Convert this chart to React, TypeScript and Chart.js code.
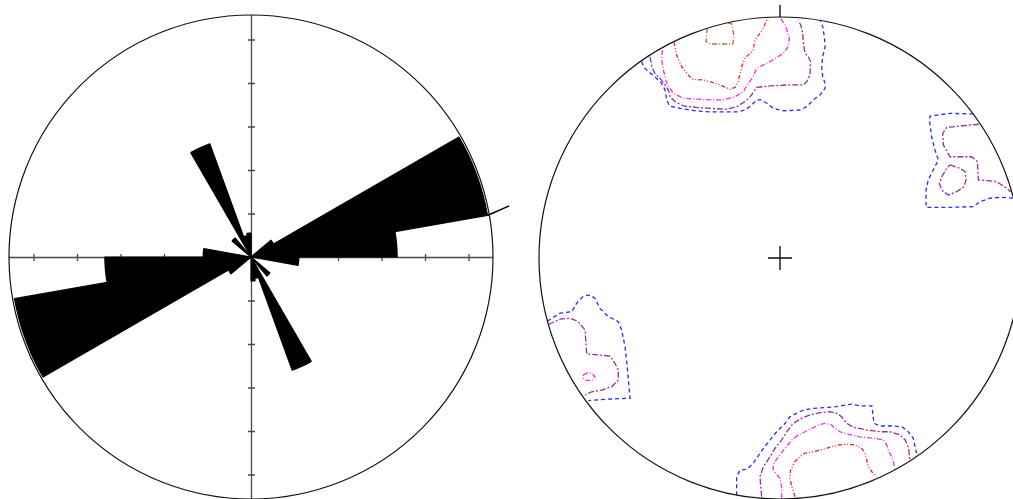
import React, { useEffect, useRef } from 'react';
import { Chart, registerables } from 'chart.js';

Chart.register(...registerables);

// ---------- Rose diagram (left) : 10° bins, azimuth clockwise from north ----------
const roseBins: string[] = Array.from({ length: 36 }, (_, i) => `${i * 10}°–${i * 10 + 10}°`);
const roseValues: number[] = [
  0, 0, 0, 0, 0, 0.6, 5.52, 5.52, 3.36, 1.1, 0, 0, 0, 0.57, 0, 2.77, 0.5, 0.55,
  0, 0, 0, 0, 0, 0.6, 5.52, 5.52, 3.36, 1.1, 0, 0, 0, 0.57, 0, 2.77, 0.5, 0.55,
];
const roseTicks: number[] = [1, 2, 3, 4, 5];
const roseMax = 5.563;
const overflowAz: number[] = [80, 78.8];
const overflowR: number[] = [5.53, 6.05];

// ---------- Stereonet contours (right) : x, y in % of primitive radius ----------
const topOrange: number[][] = [
  [-30.2, 95.3], [-30.7, 89.8], [-29.0, 88.8], [-19.6, 88.8], [-19.1, 91.8], [-20.0, 97.1], [-21.5, 97.6],
];
const topRed: number[][] = [
  [-44.0, 89.5], [-42.9, 84.2], [-40.8, 79.4], [-38.1, 75.9], [-36.0, 74.1], [-31.8, 73.9], [-29.0, 73.2],
  [-24.9, 71.8], [-20.7, 70.0], [-18.7, 70.8], [-17.3, 73.2], [-15.9, 79.4], [-14.5, 82.9], [-11.1, 86.3],
  [-10.4, 90.5], [-8.3, 93.2], [-6.9, 95.3], [-5.5, 98.8], [-4.9, 100.0],
];
const topMagenta: number[][] = [
  [-48.8, 86.3], [-49.1, 82.2], [-48.4, 78.0], [-47.0, 72.5], [-44.3, 68.3], [-40.1, 66.3], [-34.6, 65.9],
  [-29.0, 65.6], [-23.5, 65.6], [-18.7, 66.9], [-15.2, 69.0], [-13.2, 72.5], [-11.1, 75.2], [-9.7, 78.7],
  [-4.1, 81.5], [1.4, 84.9], [3.4, 87.7], [3.9, 91.2], [2.8, 94.6], [2.1, 96.7], [0.7, 98.8], [0, 99.9],
];
const topPurple: number[][] = [
  [-53.9, 83.5], [-53.2, 79.4], [-51.9, 76.6], [-49.8, 74.6], [-47.7, 71.8], [-46.3, 69.7], [-45.6, 66.9],
  [-43.6, 64.9], [-40.1, 63.1], [-34.6, 62.5], [-29.0, 62.1], [-22.1, 61.7], [-18.0, 62.8], [-14.5, 64.9],
  [-12.4, 66.9], [-10.4, 69.7], [-9.7, 70.8], [-4.1, 71.4], [2.8, 71.8], [9.7, 71.8], [11.1, 73.2],
  [12.4, 75.9], [12.7, 81.5], [11.7, 83.5], [10.4, 84.9], [9.7, 89.1], [9.4, 93.2], [8.6, 96.7], [7.6, 98.5],
];
const topBlue: number[][] = [
  [-57.4, 81.5], [-56.7, 79.4], [-54.6, 77.3], [-51.9, 75.2], [-49.1, 72.5], [-47.7, 69.7], [-47.0, 65.6],
  [-45.9, 63.1], [-41.5, 62.1], [-34.6, 61.0], [-29.0, 60.6], [-23.5, 60.6], [-18.0, 60.6], [-14.5, 61.4],
  [-11.7, 63.5], [-9.7, 65.6], [-7.6, 65.6], [-5.5, 64.2], [-2.8, 62.1], [1.4, 61.1], [8.3, 61.4],
  [11.1, 62.8], [13.8, 65.6], [16.6, 67.6], [18.7, 70.4], [18.7, 72.5], [17.7, 75.2], [17.3, 79.4],
  [17.7, 83.5], [18.7, 87.7], [18.4, 91.8], [17.7, 96.0], [16.6, 98.8],
];
const eastBlue: number[][] = [
  [80.2, 59.8], [70.5, 60.0], [62.2, 58.9], [62.0, 57.3], [62.9, 50.3], [64.3, 44.8], [65.7, 40.7],
  [63.6, 36.5], [61.5, 32.4], [60.6, 28.2], [60.6, 21.0], [70.5, 21.0], [80.2, 21.3], [83.0, 23.4],
  [87.1, 24.8], [91.3, 25.2], [96.6, 24.8],
];
const eastPurple: number[][] = [
  [82.5, 55.5], [69.2, 54.2], [67.5, 51.7], [67.8, 46.9], [70.5, 42.0], [79.5, 42.0], [81.9, 40.0],
  [82.3, 32.4], [89.9, 31.7], [94.1, 28.9], [95.7, 27.5],
];
const eastPurpleCore: number[][] = [
  [70.5, 38.6], [74.7, 37.2], [76.8, 35.8], [77.2, 32.4], [76.3, 29.6], [73.3, 27.5], [69.8, 26.1],
  [67.1, 28.2], [66.1, 31.0], [67.5, 34.4], [69.2, 37.2], [70.5, 38.6],
];
const westBlue: number[][] = [
  [-96.5, -26.2], [-91.3, -22.9], [-86.4, -22.3], [-84.4, -18.8], [-81.6, -15.8], [-78.8, -15.4],
  [-76.8, -16.7], [-74.7, -20.9], [-71.9, -23.7], [-69.8, -25.0], [-67.1, -26.4], [-65.7, -29.9],
  [-64.3, -36.8], [-63.4, -45.1], [-62.9, -50.6], [-62.2, -58.2], [-71.9, -58.6], [-79.5, -59.2],
];
const westPurple: number[][] = [
  [-96.1, -27.6], [-91.3, -25.4], [-87.1, -25.0], [-83.7, -26.4], [-80.9, -29.9], [-80.5, -35.4],
  [-80.2, -39.8], [-75.4, -40.2], [-70.5, -40.7], [-68.5, -43.7], [-67.1, -46.5], [-67.1, -50.6],
  [-69.8, -53.4], [-74.0, -54.8], [-78.1, -55.5], [-80.9, -56.8],
];
const westMagenta: number[][] = [
  [-81.6, -48.5], [-80.2, -47.8], [-78.1, -47.8], [-76.8, -49.3], [-77.7, -50.6], [-80.2, -50.9],
  [-81.6, -49.9], [-81.6, -48.5],
];
const southBlue: number[][] = [
  [-18.0, -98.4], [-18.0, -96.3], [-18.0, -90.7], [-16.6, -88.0], [-13.8, -87.7], [-11.1, -85.2],
  [-9.7, -83.1], [-6.9, -79.0], [-4.1, -75.5], [-1.4, -72.1], [2.1, -68.6], [4.1, -65.9], [6.9, -64.4],
  [9.7, -63.1], [13.8, -62.4], [19.4, -62.0], [23.5, -61.7], [27.0, -61.0], [29.8, -60.6], [33.2, -61.4],
  [38.1, -61.4], [38.5, -64.4], [39.0, -68.6], [41.5, -69.7], [47.0, -69.7], [50.9, -70.2], [53.2, -72.1],
  [55.3, -74.8], [56.0, -78.3], [56.7, -81.0],
];
const southPurple: number[][] = [
  [-7.6, -99.0], [-8.0, -94.9], [-8.3, -90.7], [-6.9, -86.6], [-4.1, -82.4], [-2.1, -79.0], [0.7, -75.5],
  [2.8, -72.1], [5.5, -68.6], [9.0, -66.5], [12.4, -65.1], [16.6, -64.2], [20.7, -63.8], [23.5, -64.4],
  [25.6, -65.9], [27.7, -68.6], [30.4, -70.2], [36.0, -71.4], [41.5, -72.1], [45.6, -72.1], [49.8, -73.4],
  [51.9, -75.5], [53.2, -78.3], [53.9, -83.8],
];
const southMagenta: number[][] = [
  [0.7, -99.7], [0.7, -94.9], [0, -91.4], [-2.8, -88.0], [-2.8, -85.9], [-0.7, -82.4], [2.1, -79.0],
  [4.9, -75.5], [7.6, -73.4], [10.4, -72.1], [13.2, -70.7], [15.9, -69.3], [18.7, -68.6], [21.5, -69.3],
  [22.8, -70.7], [24.9, -72.1], [27.7, -73.0], [33.2, -74.2], [38.7, -74.8], [42.9, -75.5], [44.3, -77.6],
  [44.9, -79.7], [46.3, -82.4], [47.0, -84.5], [47.7, -87.3],
];
const southRed: number[][] = [
  [6.2, -99.0], [4.9, -94.9], [4.1, -91.4], [4.4, -88.0], [6.2, -84.5], [8.3, -82.4], [10.4, -81.0],
  [13.8, -80.4], [18.0, -79.4], [20.7, -78.5], [24.2, -77.6], [27.7, -77.2], [31.1, -77.6], [33.9, -79.0],
  [35.3, -81.0], [36.0, -83.8], [36.6, -86.6], [38.1, -88.7], [40.1, -90.7],
];

// ---------- styles ----------
const BLUE = '#2a2aff';
const PURPLE = '#952e95';
const MAGENTA = '#f030f0';
const RED = '#f02020';
const ORANGE = '#cc6633';

const contourSets: { pts: number[][]; color: string; dash: number[] }[] = [
  { pts: topBlue, color: BLUE, dash: [4, 3] },
  { pts: eastBlue, color: BLUE, dash: [4, 3] },
  { pts: westBlue, color: BLUE, dash: [4, 3] },
  { pts: southBlue, color: BLUE, dash: [4, 3] },
  { pts: topPurple, color: PURPLE, dash: [6, 2, 2, 2] },
  { pts: eastPurple, color: PURPLE, dash: [6, 2, 2, 2] },
  { pts: eastPurpleCore, color: PURPLE, dash: [6, 2, 2, 2] },
  { pts: westPurple, color: PURPLE, dash: [6, 2, 2, 2] },
  { pts: southPurple, color: PURPLE, dash: [6, 2, 2, 2] },
  { pts: topMagenta, color: MAGENTA, dash: [5, 2, 1, 2] },
  { pts: westMagenta, color: MAGENTA, dash: [5, 2, 1, 2] },
  { pts: southMagenta, color: MAGENTA, dash: [5, 2, 1, 2] },
  { pts: topRed, color: RED, dash: [4, 2, 1, 2, 1, 2] },
  { pts: southRed, color: RED, dash: [4, 2, 1, 2, 1, 2] },
  { pts: topOrange, color: ORANGE, dash: [5, 2, 1, 2] },
];

const roseFrame = {
  id: 'roseFrame',
  beforeDatasetsDraw(chart: any) {
    const s = chart.scales.r;
    const ctx = chart.ctx as CanvasRenderingContext2D;
    const cx = s.xCenter;
    const cy = s.yCenter;
    const R = s.drawingArea;
    ctx.save();
    ctx.lineWidth = 1.3;
    ctx.strokeStyle = '#4a4a4a';
    ctx.beginPath();
    ctx.moveTo(cx - R, cy + 0.5);
    ctx.lineTo(cx + R, cy + 0.5);
    ctx.moveTo(cx + 0.5, cy - R);
    ctx.lineTo(cx + 0.5, cy + R);
    roseTicks.forEach((t) => {
      const d = s.getDistanceFromCenterForValue(t);
      [-1, 1].forEach((sg) => {
        ctx.moveTo(cx + sg * d + 0.5, cy - 3);
        ctx.lineTo(cx + sg * d + 0.5, cy + 4);
        ctx.moveTo(cx - 3, cy + sg * d + 0.5);
        ctx.lineTo(cx + 4, cy + sg * d + 0.5);
      });
    });
    ctx.stroke();
    ctx.restore();
  },
  afterDatasetsDraw(chart: any) {
    const s = chart.scales.r;
    const ctx = chart.ctx as CanvasRenderingContext2D;
    const cx = s.xCenter;
    const cy = s.yCenter;
    const R = s.drawingArea;
    ctx.save();
    ctx.lineWidth = 1.2;
    ctx.strokeStyle = '#111';
    ctx.beginPath();
    ctx.arc(cx, cy, R, 0, Math.PI * 2);
    ctx.stroke();
    ctx.strokeStyle = '#000';
    ctx.lineWidth = 1.5;
    ctx.beginPath();
    overflowAz.forEach((az, i) => {
      const a = (az * Math.PI) / 180 - Math.PI / 2;
      const d = s.getDistanceFromCenterForValue(overflowR[i]);
      const x = cx + Math.cos(a) * d;
      const y = cy + Math.sin(a) * d;
      if (i === 0) ctx.moveTo(x, y);
      else ctx.lineTo(x, y);
    });
    ctx.stroke();
    ctx.restore();
  },
};

const netFrame = {
  id: 'netFrame',
  afterDatasetsDraw(chart: any) {
    const xs = chart.scales.x;
    const ys = chart.scales.y;
    const ctx = chart.ctx as CanvasRenderingContext2D;
    const cx = xs.getPixelForValue(0);
    const cy = ys.getPixelForValue(0);
    const R = xs.getPixelForValue(100) - cx;
    ctx.save();
    ctx.lineWidth = 1.2;
    ctx.strokeStyle = '#111';
    ctx.beginPath();
    ctx.arc(cx, cy, R, 0, Math.PI * 2);
    ctx.stroke();
    ctx.lineWidth = 1.4;
    ctx.beginPath();
    ctx.moveTo(xs.getPixelForValue(-5), cy);
    ctx.lineTo(xs.getPixelForValue(5), cy);
    ctx.moveTo(cx, ys.getPixelForValue(-5));
    ctx.lineTo(cx, ys.getPixelForValue(5));
    ctx.moveTo(cx, ys.getPixelForValue(100));
    ctx.lineTo(cx, ys.getPixelForValue(105));
    ctx.stroke();
    ctx.restore();
  },
};

function RoseChart() {
  const ref = useRef<HTMLCanvasElement>(null);
  useEffect(() => {
    const chart = new Chart(ref.current as HTMLCanvasElement, {
      type: 'polarArea',
      data: {
        labels: roseBins,
        datasets: [{ data: roseValues, backgroundColor: '#000', borderColor: '#000', borderWidth: 1.2 }],
      },
      options: {
        responsive: false,
        animation: false,
        layout: { padding: 20 },
        plugins: { legend: { display: false }, tooltip: { enabled: false } },
        scales: { r: { display: false, min: 0, max: roseMax, startAngle: 0 } as any },
      },
      plugins: [roseFrame as any],
    });
    return () => chart.destroy();
  }, []);
  return (
    <canvas
      ref={ref}
      width={524}
      height={524}
      style={{ position: 'absolute', left: -11, top: -5, width: 524, height: 524 }}
    />
  );
}

function NetChart() {
  const ref = useRef<HTMLCanvasElement>(null);
  useEffect(() => {
    const chart = new Chart(ref.current as HTMLCanvasElement, {
      type: 'scatter',
      data: {
        datasets: contourSets.map((c) => ({
          data: c.pts.map(([x, y]) => ({ x, y })),
          showLine: true,
          borderColor: c.color,
          borderWidth: 1.3,
          borderDash: c.dash,
          pointRadius: 0,
          fill: false,
          tension: 0,
        })),
      },
      options: {
        responsive: false,
        animation: false,
        layout: { padding: 0 },
        plugins: { legend: { display: false }, tooltip: { enabled: false } },
        scales: {
          x: { type: 'linear', display: false, min: -110.79, max: 96.68 },
          y: { type: 'linear', display: false, min: -100, max: 107.05 },
        },
      },
      plugins: [netFrame as any],
    });
    return () => chart.destroy();
  }, []);
  return (
    <canvas
      ref={ref}
      width={500}
      height={499}
      style={{ position: 'absolute', left: 513, top: 0, width: 500, height: 499 }}
    />
  );
}

export default function App() {
  return (
    <div
      style={{
        position: 'fixed',
        left: 0,
        top: 0,
        width: 1013,
        height: 499,
        overflow: 'hidden',
        background: '#fff',
      }}
    >
      <RoseChart />
      <NetChart />
    </div>
  );
}
